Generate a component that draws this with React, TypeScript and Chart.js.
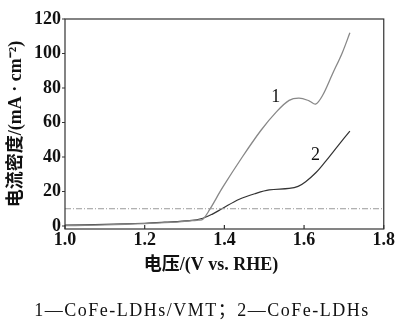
import React, { useEffect, useRef } from "react";
import { Chart, registerables } from "chart.js";

Chart.register(...registerables);

// Data
const curve1V = [1.0, 1.05, 1.1, 1.15, 1.2, 1.25, 1.28, 1.3, 1.32, 1.335, 1.346, 1.3625, 1.396, 1.445, 1.492, 1.53, 1.5625, 1.5875, 1.6125, 1.629, 1.646, 1.671, 1.696, 1.715];
const curve1I = [0.2, 0.4, 0.7, 1.0, 1.4, 1.9, 2.3, 2.7, 3.1, 3.4, 3.9, 9.3, 22.5, 40.0, 55.5, 66.0, 72.8, 74.1, 72.6, 70.7, 75.5, 88.0, 100.5, 112.0];
const curve2V = [1.0, 1.1, 1.2, 1.25, 1.3125, 1.346, 1.37, 1.396, 1.4375, 1.479, 1.5125, 1.5625, 1.585, 1.604, 1.63, 1.654, 1.685, 1.715];
const curve2I = [0.5, 0.9, 1.6, 2.2, 3.1, 4.5, 6.9, 10.3, 15.5, 18.9, 20.9, 21.8, 23.0, 25.7, 31.0, 37.5, 46.5, 55.0];
const refLineV = [1.0, 1.8];
const refLineI = [10, 10];
const xTicks = [1.0, 1.2, 1.4, 1.6, 1.8];
const yTicks = [0, 20, 40, 60, 80, 100, 120];
const curveLabels = [
  { text: "1", v: 1.529, i: 74.6 },
  { text: "2", v: 1.629, i: 41.2 },
];
const xTitle = "电压/(V vs. RHE)";
const yTitle = "电流密度/(mA · cm⁻²)";
const caption = "1—CoFe-LDHs/VMT；2—CoFe-LDHs";

const serif = "'Liberation Serif', 'Noto Sans CJK SC', serif";

const decorPlugin = {
  id: "decor",
  afterDraw(chart: any) {
    const { ctx, chartArea, scales } = chart;
    const x = scales.x;
    const y = scales.y;
    ctx.save();
    ctx.strokeStyle = "#333";
    ctx.lineWidth = 1.2;
    ctx.strokeRect(chartArea.left, chartArea.top, chartArea.right - chartArea.left, chartArea.bottom - chartArea.top);
    ctx.beginPath();
    xTicks.forEach((t) => {
      const px = x.getPixelForValue(t);
      ctx.moveTo(px, chartArea.bottom);
      ctx.lineTo(px, chartArea.bottom - 4);
    });
    yTicks.forEach((t) => {
      const py = y.getPixelForValue(t);
      ctx.moveTo(chartArea.left, py);
      ctx.lineTo(chartArea.left - 3, py);
    });
    ctx.stroke();
    ctx.fillStyle = "#111";
    ctx.font = "18px " + serif;
    ctx.textAlign = "center";
    ctx.textBaseline = "middle";
    curveLabels.forEach((l) => {
      ctx.fillText(l.text, x.getPixelForValue(l.v), y.getPixelForValue(l.i));
    });
    ctx.font = "bold 18px " + serif;
    ctx.fillText(xTitle, 211, 265);
    ctx.font = "18px " + serif;
    (ctx as any).letterSpacing = "1.5px";
    ctx.fillText(caption, 202, 311);
    ctx.restore();
  },
};

export default function App() {
  const ref = useRef<HTMLCanvasElement | null>(null);
  useEffect(() => {
    if (!ref.current) return;
    const chart = new Chart(ref.current, {
      type: "line",
      data: {
        datasets: [
          {
            data: refLineV.map((v, k) => ({ x: v, y: refLineI[k] })),
            borderColor: "#9a9a9a",
            borderWidth: 1,
            borderDash: [6, 2, 1, 2],
            pointRadius: 0,
          },
          {
            data: curve1V.map((v, k) => ({ x: v, y: curve1I[k] })),
            borderColor: "#888",
            borderWidth: 1.3,
            pointRadius: 0,
            tension: 0.35,
          },
          {
            data: curve2V.map((v, k) => ({ x: v, y: curve2I[k] })),
            borderColor: "#333",
            borderWidth: 1.2,
            pointRadius: 0,
            tension: 0.35,
          },
        ],
      },
      options: {
        animation: false,
        responsive: true,
        maintainAspectRatio: false,
        layout: { padding: { left: 0, right: 11, top: 19, bottom: 0 } },
        plugins: { legend: { display: false }, tooltip: { enabled: false } },
        scales: {
          x: {
            type: "linear",
            min: 1.0,
            max: 1.8,
            afterBuildTicks: (s: any) => {
              s.ticks = xTicks.map((v) => ({ value: v }));
            },
            afterFit: (s: any) => {
              s.height = 91;
            },
            grid: { display: false, drawTicks: false },
            border: { display: false },
            ticks: {
              padding: 1,
              color: "#111",
              font: { family: serif, size: 18, weight: "bold" },
              callback: (v: any) => Number(v).toFixed(1),
              maxRotation: 0,
              autoSkip: false,
            },
            title: { display: false },
          },
          y: {
            type: "linear",
            min: -1.74,
            max: 120,
            afterBuildTicks: (s: any) => {
              s.ticks = yTicks.map((v) => ({ value: v }));
            },
            afterFit: (s: any) => {
              s.width = 65;
            },
            grid: { display: false, drawTicks: false },
            border: { display: false },
            ticks: {
              padding: 4,
              color: "#111",
              font: { family: serif, size: 18, weight: "bold" },
              autoSkip: false,
            },
            title: {
              display: true,
              text: yTitle,
              color: "#111",
              font: { family: serif, size: 18, weight: "bold" },
              padding: { top: 6, bottom: 0 },
            },
          },
        },
      },
      plugins: [decorPlugin],
    } as any);
    return () => chart.destroy();
  }, []);
  return (
    <div style={{ position: "fixed", left: 0, top: 0, width: 396, height: 320, background: "#fff" }}>
      <canvas ref={ref} />
    </div>
  );
}
